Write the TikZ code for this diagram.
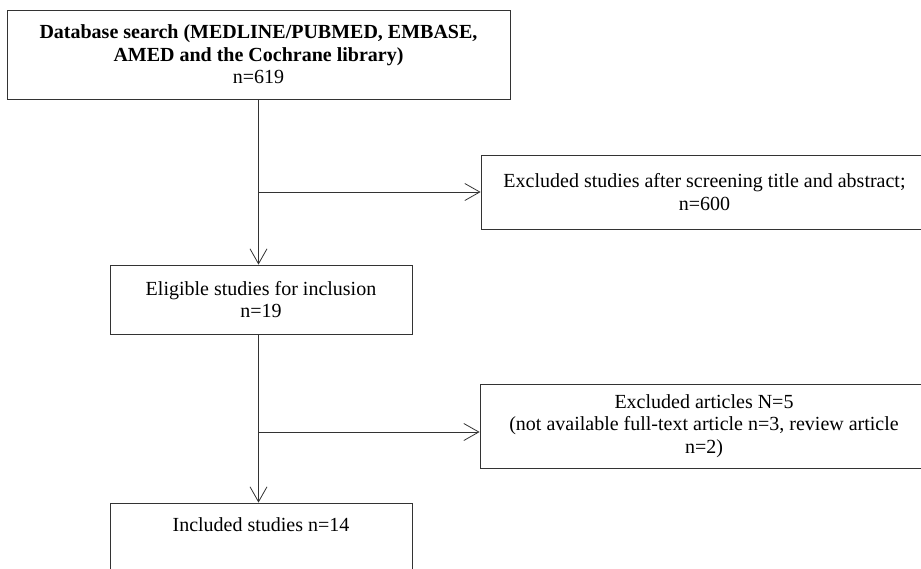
\documentclass[tikz,border=0pt]{standalone}
\usepackage{fontspec}
\setmainfont{Liberation Serif}
\usetikzlibrary{arrows.meta}
\tikzset{basic/.style={draw=black!80,line width=0.8pt,align=center,
                       inner sep=0pt,font=\fontsize{20}{22.5}\selectfont}}
\tikzset{flow/.style={draw=black!80,line width=0.8pt,
                      -{Straight Barb[length=15pt,width=17pt]}}}

\begin{document}
\begin{tikzpicture}[x=1pt,y=1pt]
  % page size of the reference
  \useasboundingbox (0,0) rectangle (921,-568);

  % Left column: search, eligible and included studies
  \node (search) [basic,minimum width=503pt,minimum height=89pt] at (258.5,-54.5)
    {\textbf{Database search (MEDLINE/PUBMED, EMBASE,}\\
     \textbf{AMED and the Cochrane library)}\\ n=619};
  \node (eligible) [basic,minimum width=302pt,minimum height=69pt] at (261,-299.5)
    {Eligible studies for inclusion\\ n=19};
  \node (included) [basic,minimum width=302pt,minimum height=72pt] at (261,-539)
    {Included studies n=14\\ \strut};

  % Right column: exclusions
  \node (excl1) [basic,minimum width=447pt,minimum height=74pt] at (704.5,-192)
    {Excluded studies after screening title and abstract;\\ n=600};
  \node (excl2) [basic,minimum width=448pt,minimum height=84pt] at (704,-426)
    {Excluded articles N=5\\
     (not available full-text article n=3, review article\\ n=2)};

  % The flow is drawn with open arrows:
  \draw[flow] (search.south) -- (search.south |- eligible.north);
  \draw[flow] (eligible.south -| search.south) -- (search.south |- included.north);

  \coordinate (split1) at (search.south |- excl1.west);
  \coordinate (split2) at (258.5,-432);
  \draw[flow] (split1) -- (excl1.west);
  \draw[flow] (split2) -- (split2 -| excl2.west);
\end{tikzpicture}
\end{document}
